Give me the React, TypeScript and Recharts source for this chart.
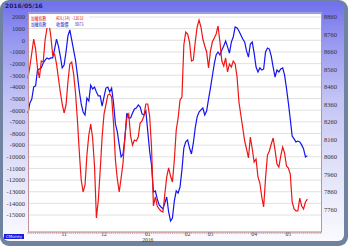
import { LineChart, Line, XAxis, YAxis, CartesianGrid } from "recharts";

// ADL(14), left axis
const adl = [
  -3240, -2210, -1090, 110, -750, -2380, -3240, -1780, -1860, 30,
  1060, 1490, 370, -1260, -1180, -2030, -3240, -4440, -5470, -6240,
  -5550, -3580, -2030, -1860, -2890, -4520, -6840, -9590, -11990, -13020,
  -12420, -9850, -8130, -7190, -8390, -10790, -15250, -13710, -11130, -8300,
  -6330, -5550, -4700, -4610, -4870, -7100, -10280, -11910, -13020, -11820,
  -10530, -8300, -6670, -6330, -8220, -8990, -8560, -8640, -8300, -7100,
  -6930, -6500, -5470, -5470, -6500, -9160, -14220, -13450, -14220, -14480,
  -14650, -14740, -13190, -11730, -10960, -11650, -12160, -10280, -7700, -6670,
  -5120, -4870, -400, 710, 540, -150, -1780, -1690, -150, 1140,
  1740, 1140, 110, -490, -1000, -2380, -920, -150, 200, 540,
  1230, -150, -1780, -2210, -1520, -2720, -2030, -2290, -1780, -2030,
  -3150, -5300, -6410, -7530, -8640, -9330, -10100, -8300, -9330, -10450,
  -10190, -11730, -12250, -13450, -14310, -11820, -9850, -9500, -8900, -8390,
  -9420, -10620, -10880, -9930, -9160, -9670, -10790, -10960, -11480, -13880,
  -14480, -14650, -14650, -13540, -14220, -14480, -13880, -13632,
];

// 收盤價, right axis
const close = [
  8311, 8369, 8391, 8460, 8466, 8557, 8563, 8569, 8597, 8614,
  8626, 8620, 8626, 8626, 8677, 8734, 8694, 8637, 8569, 8586,
  8660, 8751, 8786, 8729, 8671, 8614, 8529, 8437, 8363, 8317,
  8300, 8397, 8380, 8471, 8449, 8460, 8431, 8409, 8409, 8351,
  8403, 8454, 8460, 8431, 8454, 8369, 8249, 8203, 8129, 8060,
  8077, 8169, 8311, 8283, 8283, 8311, 8334, 8340, 8357, 8346,
  8306, 8300, 8323, 8209, 8094, 8014, 7860, 7866, 7820, 7786,
  7774, 7763, 7797, 7831, 7746, 7694, 7711, 7809, 7866, 7854,
  7889, 7986, 8111, 8146, 8157, 8111, 8077, 8140, 8226, 8289,
  8317, 8329, 8340, 8300, 8323, 8391, 8454, 8523, 8591, 8643,
  8660, 8643, 8671, 8694, 8723, 8689, 8654, 8717, 8746, 8803,
  8797, 8780, 8757, 8734, 8717, 8666, 8631, 8706, 8717, 8654,
  8574, 8546, 8569, 8557, 8563, 8660, 8683, 8677, 8637, 8574,
  8517, 8557, 8546, 8563, 8569, 8529, 8454, 8369, 8277, 8180,
  8163, 8146, 8151, 8146, 8129, 8106, 8060, 8067.6,
];

const monthTicks = [19, 40, 63, 84, 96, 119, 137];
const monthLabels = ["11", "12", "01", "02", "03", "04", "05"];
const yearLabel = "2016";

const leftTicks = [
  2000, 1000, 0, -1000, -2000, -3000, -4000, -5000, -6000, -7000, -8000,
  -9000, -10000, -11000, -12000, -13000, -14000, -15000,
];
const rightTicks = [8860, 8760, 8660, 8560, 8460, 8360, 8260, 8160, 8060, 7960, 7860, 7760];

const data = adl.map((v, i) => ({ i, adl: v, close: close[i] }));
const dayTicks = Array.from({ length: 155 }, (_, i) => i);

const axisFont = "'Liberation Serif', serif";

function DayTick({ x, y, payload }: any) {
  const m = monthTicks.indexOf(payload.value);
  return (
    <g>
      <line x1={x} x2={x} y1={y} y2={y + 2} stroke="#c49292" strokeWidth={0.7} />
      {m >= 0 && (
        <text x={x} y={y + 4.3} textAnchor="middle" fontSize={5.6} fontFamily={axisFont} fill="#333">
          {monthLabels[m]}
        </text>
      )}
      {m === 2 && (
        <text x={x} y={y + 9.6} textAnchor="middle" fontSize={5.6} fontFamily={axisFont} fill="#333">
          {yearLabel}
        </text>
      )}
    </g>
  );
}

export default function App() {
  return (
    <div style={{ position: "fixed", left: 0, top: 0, width: 350, height: 248, background: "#fff" }}>
      <div
        style={{
          position: "absolute",
          left: 0,
          top: 0,
          width: 348,
          height: 246,
          borderRadius: 9,
          background: "#6f83a0",
        }}
      />
      <div
        style={{
          position: "absolute",
          left: 3,
          top: 2,
          width: 341,
          height: 239,
          borderRadius: 6,
          background:
            "linear-gradient(to bottom, #7070ec 0%, #9595f0 15%, #c2c2f5 40%, #e2e2f9 70%, #fafaff 100%)",
        }}
      />
      <div style={{ position: "absolute", left: 0, top: 0 }}>
        <LineChart width={350} height={248} data={data} margin={{ top: 13, right: 0, bottom: 0, left: 0 }}>
          <CartesianGrid yAxisId="left" vertical={false} stroke="#d9d9d9" strokeWidth={0.8} fill="#fff" />
          <XAxis
            dataKey="i"
            type="number"
            domain={[0, 154.7]}
            ticks={dayTicks}
            interval={0}
            height={16}
            tickSize={0}
            tickMargin={0}
            axisLine={false}
            tick={<DayTick />}
          />
          <YAxis
            yAxisId="left"
            orientation="left"
            width={28}
            domain={[-16455, 2343]}
            allowDataOverflow
            ticks={leftTicks}
            interval={0}
            tickSize={0}
            tickMargin={3}
            axisLine={false}
            tick={{ fontSize: 6.5, fontFamily: axisFont, fill: "#333" }}
          />
          <YAxis
            yAxisId="right"
            orientation="right"
            width={28}
            domain={[7631, 8883]}
            allowDataOverflow
            ticks={rightTicks}
            interval={0}
            tickSize={0}
            tickMargin={2}
            axisLine={false}
            tick={{ fontSize: 6.5, fontFamily: axisFont, fill: "#333" }}
          />
          <Line
            yAxisId="right"
            dataKey="close"
            stroke="#1414f0"
            strokeWidth={1.2}
            dot={false}
            isAnimationActive={false}
          />
          <Line
            yAxisId="left"
            dataKey="adl"
            stroke="#f01414"
            strokeWidth={1.2}
            dot={false}
            isAnimationActive={false}
          />
        </LineChart>
      </div>
      <svg
        width={350}
        height={248}
        style={{ position: "absolute", left: 0, top: 0, pointerEvents: "none" }}
      >
        <rect x={28.5} y={13.5} width={293} height={218.5} fill="none" stroke="#c49292" strokeWidth={1} />
        <rect x={29} y={14} width={60} height={14} fill="#fff" />
        <g fontSize={4.6} fontFamily="'Noto Sans CJK TC', sans-serif" lengthAdjust="spacingAndGlyphs">
          <text x={31} y={19.5} fill="#e01010" textLength={15.5} lengthAdjust="spacingAndGlyphs">加權指數</text>
          <text x={56} y={19.5} fill="#e01010" textLength={14} lengthAdjust="spacingAndGlyphs">ADL(14)</text>
          <text x={72} y={19.5} fill="#e01010" textLength={11.5} lengthAdjust="spacingAndGlyphs">-13632</text>
          <text x={31} y={26} fill="#1818c8" textLength={15.5} lengthAdjust="spacingAndGlyphs">加權指數</text>
          <text x={56} y={26} fill="#1818c8" textLength={12.5} lengthAdjust="spacingAndGlyphs">收盤價</text>
          <text x={75} y={26} fill="#1818c8" textLength={8.5} lengthAdjust="spacingAndGlyphs">8067.6</text>
        </g>
        <text x={5} y={8} fontSize={6} fontWeight="bold" fontFamily="'DejaVu Sans', sans-serif" fill="#1c1c5c">
          2016/05/16
        </text>
        <rect x={4} y={234} width={20} height={5} fill="#1a1ae0" />
        <text x={14} y={238} fontSize={4} textAnchor="middle" fontFamily="'DejaVu Sans', sans-serif" fill="#e8e8ff">
          CMoney
        </text>
      </svg>
    </div>
  );
}
